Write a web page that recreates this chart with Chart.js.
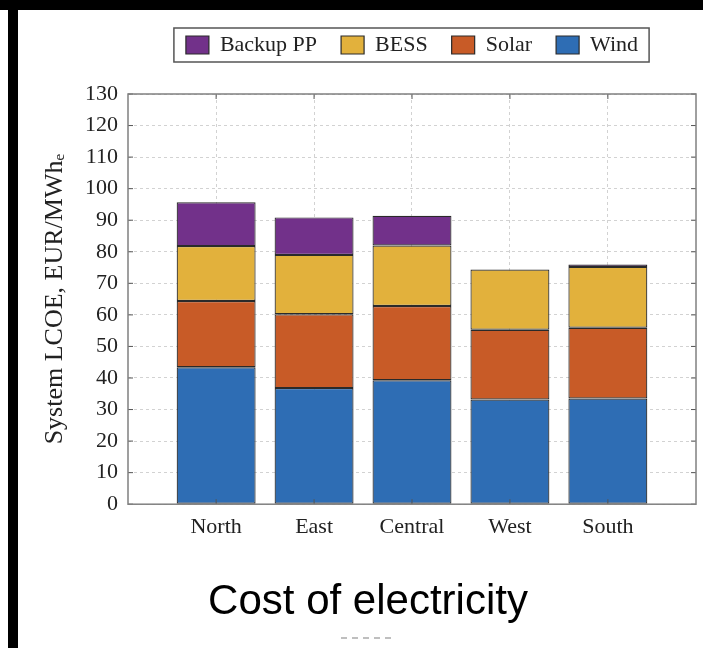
<!DOCTYPE html>
<html>
<head>
<meta charset="utf-8">
<script src="https://cdn.jsdelivr.net/npm/chart.js@4.4.1/dist/chart.umd.min.js"></script>
<style>
    html, body { margin: 0; padding: 0; background: #fff; }
    body { width: 703px; height: 648px; position: relative; overflow: hidden; }
    #wrap { position: absolute; left: 40px; top: 0; width: 663px; height: 648px; }
    .edge { position: absolute; background: #000; z-index: 2; }
    #edgeTop { left: 0; top: 0; width: 703px; height: 10px; }
    #edgeLeft { left: 8px; top: 10px; width: 10px; height: 638px; }
</style>
</head>
<body>
<div id="edgeTop" class="edge"></div>
<div id="edgeLeft" class="edge"></div>
<div id="wrap"><canvas id="lcoeChart" width="663" height="648"></canvas></div>
<script>
    // System LCOE per region, EUR/MWh_e, split by contribution
    const regions = ['North', 'East', 'Central', 'West', 'South'];
    const wind = [43.4, 36.8, 39.3, 33.2, 33.5];
    const solar = [21.0, 23.4, 23.5, 22.1, 22.4];
    const bess = [17.4, 18.8, 19.2, 19.1, 19.3];
    const backupPP = [13.9, 11.9, 9.4, 0, 0.8];
    const yTicks = [0, 10, 20, 30, 40, 50, 60, 70, 80, 90, 100, 110, 120, 130];

    const serif = "'Liberation Serif', 'DejaVu Serif', serif";
    const textColor = '#222';
    const gridColor = '#d2d2d2';

    const toPoints = (values) => values.map((v, i) => ({ x: i, y: v }));

    const makeSet = (label, values, color) => ({
        label,
        data: toPoints(values),
        backgroundColor: color,
        borderColor: '#2a2a2a',
        borderWidth: 1.2,
        borderSkipped: false,
        categoryPercentage: 1,
        barPercentage: 0.806
    });

    // legend gets a fixed height so the plot starts right under it
    const legendHeight = {
        id: 'legendHeight',
        beforeInit(chart) {
            const legend = chart.legend;
            const fit = legend.fit;
            legend.fit = function () {
                fit.call(this);
                this.height = 84;
            };
        }
    };

    // frame around the legend, inward tick marks and the plot frame
    const decorations = {
        id: 'decorations',
        afterDraw(chart) {
            const { ctx, chartArea, scales } = chart;
            const { left, right, top, bottom } = chartArea;
            const seg = (x1, y1, x2, y2) => {
                ctx.beginPath();
                ctx.moveTo(x1, y1);
                ctx.lineTo(x2, y2);
                ctx.stroke();
            };
            ctx.save();

            const boxes = chart.legend.legendHitBoxes;
            if (boxes && boxes.length) {
                const first = boxes[0];
                const last = boxes[boxes.length - 1];
                ctx.strokeStyle = '#555';
                ctx.lineWidth = 1.5;
                ctx.strokeRect(first.left - 12, first.top - 6,
                    last.left + last.width - first.left + 23, first.height + 12);
            }

            ctx.strokeStyle = '#555';
            ctx.lineWidth = 1;
            scales.y.ticks.forEach((t) => {
                const py = scales.y.getPixelForValue(t.value);
                seg(left, py, left + 5, py);
                seg(right - 5, py, right, py);
            });
            scales.x.ticks.forEach((t) => {
                const px = scales.x.getPixelForValue(t.value);
                seg(px, top, px, top + 5);
                seg(px, bottom - 5, px, bottom);
            });

            ctx.strokeStyle = '#808080';
            ctx.lineWidth = 1.5;
            ctx.strokeRect(left, top, right - left, bottom - top);

            // clipped caption remnant under the title
            const tb = chart.titleBlock;
            const cx = (tb.left + tb.right) / 2;
            ctx.setLineDash([6, 5]);
            ctx.strokeStyle = '#aaa';
            ctx.lineWidth = 1.5;
            seg(cx - 27, chart.height - 10, cx + 28, chart.height - 10);
            ctx.restore();
        }
    };

    new Chart(document.getElementById('lcoeChart'), {
        type: 'bar',
        data: {
            datasets: [
                makeSet('Wind', wind, '#2e6db4'),
                makeSet('Solar', solar, '#c85b27'),
                makeSet('BESS', bess, '#e2b13c'),
                makeSet('Backup PP', backupPP, '#72318a')
            ]
        },
        options: {
            responsive: false,
            animation: false,
            layout: { padding: { top: 10, right: 7, bottom: 0, left: 0 } },
            plugins: {
                tooltip: { enabled: false },
                legend: {
                    position: 'top',
                    fullSize: false,
                    reverse: true,
                    labels: {
                        boxWidth: 23,
                        boxHeight: 18,
                        padding: 24,
                        color: textColor,
                        font: { family: serif, size: 22 }
                    }
                },
                title: {
                    display: true,
                    position: 'bottom',
                    text: 'Cost of electricity',
                    color: '#000',
                    font: { family: "'Liberation Sans', Arial, sans-serif", size: 42, weight: 'normal' },
                    padding: { top: 27, bottom: 20 }
                }
            },
            scales: {
                x: {
                    type: 'linear',
                    stacked: true,
                    offset: false,
                    min: -0.9,
                    max: 4.9,
                    afterBuildTicks(scale) {
                        scale.ticks = regions.map((_, i) => ({ value: i }));
                    },
                    ticks: {
                        autoSkip: false,
                        padding: 10,
                        color: textColor,
                        font: { family: serif, size: 22 },
                        callback: (value) => regions[value]
                    },
                    grid: { offset: false, color: gridColor, drawTicks: false },
                    border: { display: false, dash: [3, 3] }
                },
                y: {
                    stacked: true,
                    min: 0,
                    max: 130,
                    afterBuildTicks(scale) {
                        scale.ticks = yTicks.map((v) => ({ value: v }));
                    },
                    afterFit(scale) {
                        scale.width = 88;
                    },
                    ticks: {
                        padding: 10,
                        color: textColor,
                        font: { family: serif, size: 22 }
                    },
                    grid: { color: gridColor, drawTicks: false },
                    border: { display: false, dash: [3, 3] },
                    title: {
                        display: true,
                        text: 'System LCOE, EUR/MWh\u2091',
                        color: textColor,
                        font: { family: serif, size: 26 },
                        padding: 0
                    }
                }
            }
        },
        plugins: [legendHeight, decorations]
    });
</script>
</body>
</html>
